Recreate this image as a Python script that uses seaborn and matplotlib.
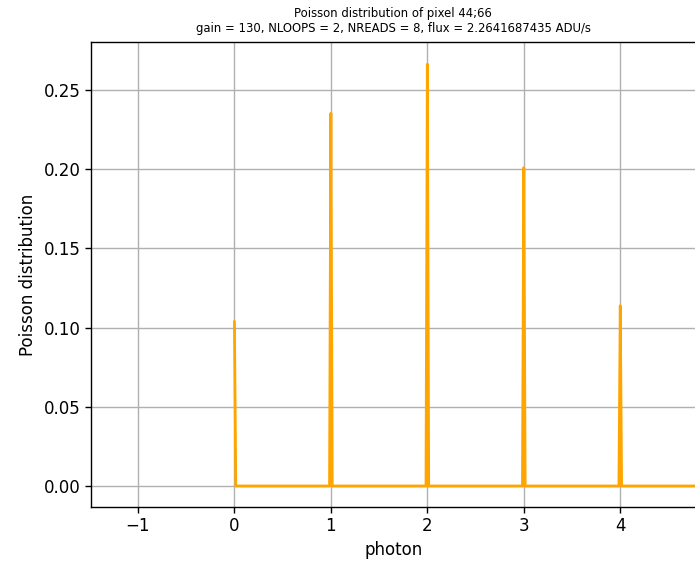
import numpy as np
import pandas as pd
import matplotlib
matplotlib.use("Agg")
import matplotlib.pyplot as plt
import seaborn as sns

# Data
photons = [0, 1, 2, 3, 4]
probabilities = [0.1039, 0.2353, 0.2663, 0.2010, 0.1138]
title_text = "Poisson distribution of pixel 44;66\ngain = 130, NLOOPS = 2, NREADS = 8, flux = 2.2641687435 ADU/s"
x_label = "photon"
y_label = "Poisson distribution"

# Build a fine-grained series: zero everywhere except at integer photon counts
eps = 0.014
xs, ys = [], []
for i, (k, p) in enumerate(zip(photons, probabilities)):
    if i > 0:
        xs.append(k - eps); ys.append(0.0)
    xs.append(k); ys.append(p)
    xs.append(k + eps); ys.append(0.0)
xs.append(photons[-1] + 2); ys.append(0.0)
df = pd.DataFrame({"photon": xs, "prob": ys})

sns.set_style("ticks")
plt.rcParams["font.family"] = ["DejaVu Sans"]
plt.rcParams["text.color"] = "black"
plt.rcParams["axes.labelcolor"] = "black"
plt.rcParams["xtick.color"] = "black"
plt.rcParams["ytick.color"] = "black"

fig = plt.figure(figsize=(6.95, 5.61), dpi=100)
ax = fig.add_axes([91/695, 1 - 507/561, (695.5 - 91)/695, (507 - 42)/561])
sns.lineplot(data=df, x="photon", y="prob", ax=ax, color="#FFA500", lw=2,
             estimator=None, sort=False)
ax.set_xlim(-1.487, 4.78)
ax.set_ylim(-0.01326, 0.2803)
ax.set_xticks([-1, 0, 1, 2, 3, 4])
ax.set_yticks([0.0, 0.05, 0.10, 0.15, 0.20, 0.25])
ax.set_yticklabels(["0.00", "0.05", "0.10", "0.15", "0.20", "0.25"])
ax.grid(True, color="#b0b0b0", lw=1.0)
ax.set_axisbelow(True)
ax.tick_params(labelsize=12, direction="out", length=4, width=1, colors="black")
ax.set_xlabel(x_label, fontsize=12, color="black")
ax.set_ylabel(y_label, fontsize=12, color="black", labelpad=5)
ax.set_title(title_text, fontsize=8.4, pad=7, color="black")
for s in ax.spines.values():
    s.set_color("black")
    s.set_linewidth(1.0)

fig.savefig("out.png", dpi=100)
